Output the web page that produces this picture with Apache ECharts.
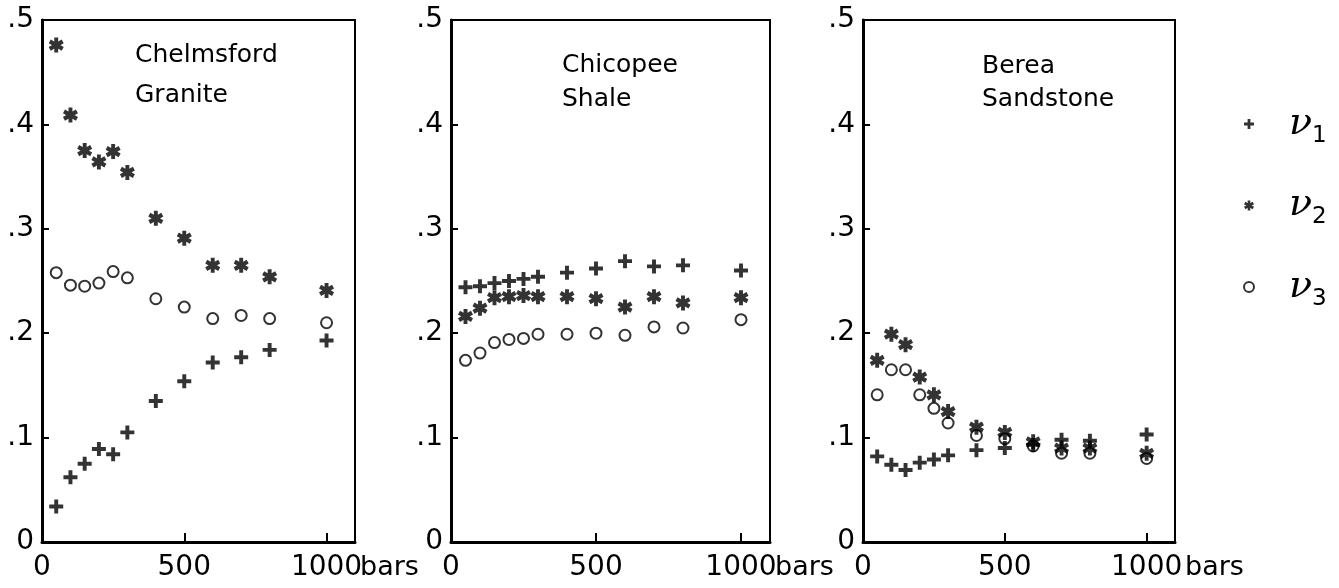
<!DOCTYPE html>
<html>
<head>
<meta charset="utf-8">
<script src="https://cdn.jsdelivr.net/npm/echarts@6.0.0/dist/echarts.min.js"></script>
<style>
  html, body { margin: 0; padding: 0; background: #fff; }
  #chart { width: 1339px; height: 588px; }
</style>
</head>
<body>
<div id="chart"></div>
<script>
// confining pressure, bars
const pressures = [50, 100, 150, 200, 250, 300, 400, 500, 600, 700, 800, 1000]

const rocks = ['Chelmsford\nGranite', 'Chicopee\nShale', 'Berea\nSandstone']

// Poisson's ratios
const graniteNu1 = [0.034, 0.062, 0.075, 0.089, 0.084, 0.105, 0.135, 0.154, 0.172, 0.177, 0.184, 0.193]
const graniteNu2 = [0.476, 0.409, 0.375, 0.364, 0.374, 0.354, 0.310, 0.291, 0.265, 0.265, 0.254, 0.241]
const graniteNu3 = [0.258, 0.246, 0.245, 0.248, 0.259, 0.253, 0.233, 0.225, 0.214, 0.217, 0.214, 0.210]

const shaleNu1 = [0.244, 0.245, 0.248, 0.250, 0.252, 0.254, 0.258, 0.262, 0.269, 0.264, 0.265, 0.260]
const shaleNu2 = [0.216, 0.224, 0.234, 0.235, 0.236, 0.235, 0.235, 0.233, 0.225, 0.235, 0.229, 0.234]
const shaleNu3 = [0.174, 0.181, 0.191, 0.194, 0.195, 0.199, 0.199, 0.200, 0.198, 0.206, 0.205, 0.213]

const sandNu1 = [0.082, 0.074, 0.069, 0.076, 0.079, 0.083, 0.088, 0.090, 0.093, 0.098, 0.097, 0.103]
const sandNu2 = [0.174, 0.199, 0.189, 0.158, 0.141, 0.125, 0.110, 0.105, 0.096, 0.090, 0.090, 0.085]
const sandNu3 = [0.141, 0.165, 0.165, 0.141, 0.128, 0.114, 0.102, 0.099, 0.092, 0.085, 0.085, 0.080]

const seriesNames = ['ν1', 'ν2', 'ν3']
const xTickLabels = [0, 500, 1000]

const panelData = [
  [graniteNu1, graniteNu2, graniteNu3],
  [shaleNu1, shaleNu2, shaleNu3],
  [sandNu1, sandNu2, sandNu3]
]

const plusPath = 'path://M3.6,0H6.4V3.6H10V6.4H6.4V10H3.6V6.4H0V3.6H3.6Z'
const starPath = 'path://M3.7,0L6.3,0L6.3,10L3.7,10Z' +
  'M8.66,8.75L0.0,3.75L1.34,1.25L10.0,6.25Z' +
  'M0.0,6.25L8.66,1.25L10.0,3.75L1.34,8.75Z'

const ink = '#000'
const font = 'DejaVu Sans'

const markers = [
  { symbol: plusPath, symbolSize: 14, itemStyle: { color: ink } },
  { symbol: starPath, symbolSize: 15, itemStyle: { color: ink } },
  { symbol: 'circle', symbolSize: 11, itemStyle: { color: 'rgba(0,0,0,0)', borderColor: ink, borderWidth: 2 } }
]

const gridBoxes = [
  { left: 42, right: 984 },
  { left: 451, right: 569 },
  { left: 863, right: 164 }
]
const titlePos = [
  { left: 130, top: 30, lh: 40 },
  { left: 557, top: 43, lh: 34 },
  { left: 977, top: 45, lh: 33 }
]
const barsGap = [5, 5, 10]

const chart = echarts.init(document.getElementById('chart'))

const option = {
  backgroundColor: '#fff',
  animation: false,
  textStyle: { fontFamily: font, color: ink },
  title: rocks.map((r, i) => ({
    text: r,
    left: titlePos[i].left,
    top: titlePos[i].top,
    textStyle: { fontFamily: font, fontSize: 25, fontWeight: 'normal', color: ink, lineHeight: titlePos[i].lh }
  })),
  legend: {
    orient: 'vertical',
    left: 1238,
    top: 100,
    itemGap: 39,
    itemWidth: 10,
    itemHeight: 10,
    data: seriesNames,
    selectedMode: false,
    formatter: name => '{v|ν}{s|' + name.slice(1) + '}',
    textStyle: {
      rich: {
        v: { fontFamily: 'DejaVu Serif', fontStyle: 'italic', fontSize: 38, color: ink, padding: [0, 0, 0, 30] },
        s: { fontFamily: font, fontSize: 23, color: ink, padding: [24, 0, 0, 0] }
      }
    }
  },
  grid: gridBoxes.map(g => ({
    left: g.left, right: g.right, top: 20, bottom: 46,
    show: true, borderColor: ink, borderWidth: 2
  })),
  xAxis: gridBoxes.map((g, i) => ({
    type: 'value',
    gridIndex: i,
    min: 0,
    max: 1100,
    interval: 500,
    name: 'bars',
    nameLocation: 'end',
    nameGap: barsGap[i],
    nameMoveOverlap: false,
    nameTextStyle: { fontFamily: font, fontSize: 27, color: ink, verticalAlign: 'top', padding: [12, 0, 0, 0] },
    axisLine: { lineStyle: { color: ink, width: 3 } },
    axisTick: { inside: true, length: 9, customValues: [500, 1000], lineStyle: { color: ink, width: 2 } },
    axisLabel: { customValues: xTickLabels, fontSize: 28, color: ink, margin: 12, formatter: v => String(v) },
    splitLine: { show: false }
  })),
  yAxis: gridBoxes.map((g, i) => ({
    type: 'value',
    gridIndex: i,
    min: 0,
    max: 0.5,
    interval: 0.1,
    axisLine: { lineStyle: { color: ink, width: 3 } },
    axisTick: { inside: true, length: 7, lineStyle: { color: ink, width: 2 } },
    axisLabel: {
      fontSize: 28, color: ink, margin: 8,
      formatter: v => v === 0 ? '0' : '.' + Math.round(v * 10)
    },
    splitLine: { show: false }
  })),
  series: []
}

panelData.forEach((sets, p) => {
  sets.forEach((vals, k) => {
    option.series.push({
      type: 'scatter',
      name: seriesNames[k],
      xAxisIndex: p,
      yAxisIndex: p,
      symbol: markers[k].symbol,
      symbolSize: markers[k].symbolSize,
      symbolKeepAspect: true,
      itemStyle: markers[k].itemStyle,
      data: pressures.map((x, j) => [x, vals[j]])
    })
  })
})

chart.setOption(option)
</script>
</body>
</html>
